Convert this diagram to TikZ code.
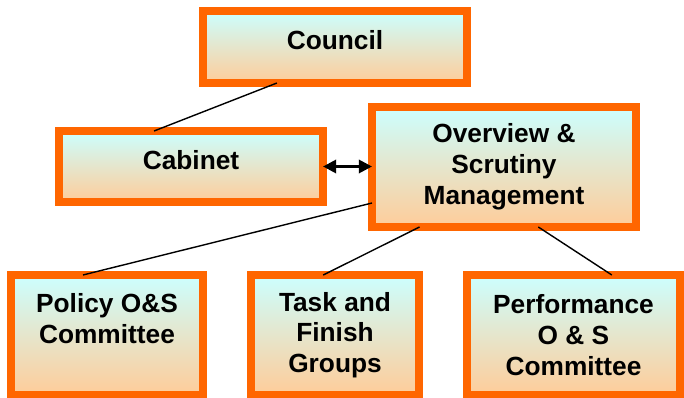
\documentclass[tikz,border=0pt]{standalone}
\usepackage{fontspec}
\setmainfont{Liberation Sans}
\usetikzlibrary{calc,arrows.meta}
\definecolor{paleCyan}{HTML}{CCFFFF}
\definecolor{peach}{HTML}{FFCC99}
\definecolor{boxOrange}{HTML}{FF6600}
\tikzset{
	orgbox/.style={draw=boxOrange, line width=0.2cm, outer sep=0pt, inner sep=0pt,
		top color=paleCyan, bottom color=peach, align=center,
		font=\fontsize{18.7pt}{21.9pt}\selectfont\bfseries},
	link/.style={line width=1pt, black}
}
\begin{document}
\begin{tikzpicture}
			%%%%% START %%%%%
			\useasboundingbox (0, 0) rectangle (17.1, 9.925);
			
			\node[orgbox, minimum width=6.6cm, minimum height=1.8cm, text depth=0.33cm] (council) at (8.375, 8.75) {Council};
			\node[orgbox, minimum width=6.6cm, minimum height=1.775cm, text depth=0.33cm] (cabinet) at (4.775, 5.7625) {Cabinet};
			\node[orgbox, minimum width=6.6cm, minimum height=3.0cm] (overview) at (12.6, 5.75) {Overview \&\\Scrutiny\\Management};
			
			\node[orgbox, minimum width=4.8cm, minimum height=3.0cm, text depth=0.83cm] (policy) at (2.675, 1.55) {Policy O\&S\\Committee};
			\node[orgbox, minimum width=4.2cm, minimum height=3.0cm] (task) at (8.375, 1.55) {Task and\\Finish\\Groups};
			\node[orgbox, minimum width=5.325cm, minimum height=3.0cm] (performance) at (14.3375, 1.55) {Performance\\O \& S\\Committee};
			
			\draw[link] ($(council.south west)!0.28!(council.south east)$) -- ($(cabinet.north west)!0.36!(cabinet.north east)$);
			\draw[line width=2pt, {Triangle[length=0.33cm, width=0.33cm]}-{Triangle[length=0.33cm, width=0.33cm]}] (cabinet.east) -- (cabinet.east -| overview.west);
			
			\draw[link] ($(overview.south west)!0.2!(overview.north west)$) -- ($(policy.north west)!0.375!(policy.north east)$);
			\draw[link] ($(overview.south west)!0.18!(overview.south east)$) -- ($(task.north west)!0.43!(task.north east)$);
			\draw[link] ($(overview.south west)!0.63!(overview.south east)$) -- ($(performance.north west)!0.68!(performance.north east)$);
			
			%%%%% END %%%%%
\end{tikzpicture}
\end{document}
